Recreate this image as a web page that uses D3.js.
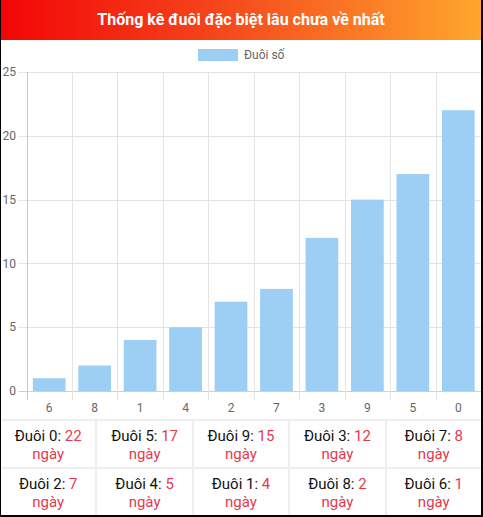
<!DOCTYPE html>
<html>
<head>
<meta charset="utf-8">
<script src="https://cdn.jsdelivr.net/npm/d3@7"></script>
<style>
  html, body { margin: 0; padding: 0; background: #000; }
  #wrap {
    position: absolute; left: 1px; top: 0;
    width: 480px; height: 515px;
    background: #fff; overflow: hidden;
    font-family: Roboto, "Noto Sans", sans-serif;
  }
  #title {
    position: absolute; left: 0; top: 0; width: 480px; height: 40px;
    background: linear-gradient(to right, #f20505, #f5461c 45%, #ffa72c);
    color: #fff; font-weight: bold; font-size: 16px;
    line-height: 40px; text-align: center;
  }
  #chart { position: absolute; left: 0; top: 40px; }
  #table {
    position: absolute; left: 0; top: 419px; width: 480px; height: 96px;
    display: grid; grid-template-columns: repeat(5, 1fr);
    grid-template-rows: 46px 46px;
    gap: 2px; background: #eee; padding-top: 2px;
  }
  .cell {
    background: #fff; text-align: center; font-size: 15px;
    line-height: 18px; padding-top: 6px; color: #111;
  }
  .cell .red { color: #e8384f; }
</style>
</head>
<body>
<div id="wrap">
  <div id="title">Thống kê đuôi đặc biệt lâu chưa về nhất</div>
  <svg id="chart" width="480" height="379"></svg>
  <div id="table"></div>
</div>
<script>
// data
const categories = ['6', '8', '1', '4', '2', '7', '3', '9', '5', '0'];
const values = [1, 2, 4, 5, 7, 8, 12, 15, 17, 22];
const yTicks = [0, 5, 10, 15, 20, 25];
const seriesName = 'Đuôi số';

const svg = d3.select('#chart');
// plot area inside the svg (svg starts 40px below page top, 1px right)
const plotL = 25.5, plotR = 480, plotT = 32, plotB = 351;

const x = d3.scaleBand().domain(categories).range([plotL, plotR]).paddingInner(0).paddingOuter(0);
const y = d3.scaleLinear().domain([0, 25]).range([plotB, plotT]);

// horizontal grid + y labels
const gy = svg.append('g');
yTicks.forEach(t => {
  gy.append('line')
    .attr('x1', plotL - 8).attr('x2', plotR)
    .attr('y1', Math.round(y(t)) + 0.5).attr('y2', Math.round(y(t)) + 0.5)
    .attr('stroke', t === 0 ? '#cfcfcf' : '#e4e4e4');
  gy.append('text')
    .attr('x', 15).attr('y', y(t)).attr('dy', '0.35em')
    .attr('text-anchor', 'end')
    .attr('fill', '#666').style('font-size', '12px')
    .text(t);
});

// vertical grid at band edges
const edges = categories.map(c => x(c)).concat([plotR]);
edges.forEach((e, i) => {
  svg.append('line')
    .attr('x1', Math.round(e) + 0.5).attr('x2', Math.round(e) + 0.5)
    .attr('y1', plotT).attr('y2', plotB + 9)
    .attr('stroke', i === 0 ? '#c8c8c8' : '#e4e4e4');
});

// bars
const barW = x.bandwidth() * 0.72;
svg.selectAll('.bar')
  .data(values)
  .enter().append('rect')
  .attr('class', 'bar')
  .attr('x', (d, i) => x(categories[i]) + (x.bandwidth() - barW) / 2)
  .attr('width', barW)
  .attr('y', d => y(d))
  .attr('height', d => y(0) - y(d))
  .attr('fill', '#9dcff5');

// x labels
svg.selectAll('.xl')
  .data(categories)
  .enter().append('text')
  .attr('x', d => x(d) + x.bandwidth() / 2)
  .attr('y', plotB + 17).attr('dy', '0.35em')
  .attr('text-anchor', 'middle')
  .attr('fill', '#666').style('font-size', '12px')
  .text(d => d);

// legend
svg.append('rect')
  .attr('x', 197).attr('y', 9).attr('width', 40).attr('height', 12)
  .attr('fill', '#9dcff5');
svg.append('text')
  .attr('x', 243).attr('y', 15).attr('dy', '0.35em')
  .attr('fill', '#666').style('font-size', '12px')
  .text(seriesName);

// table, longest first
const order = d3.range(values.length).sort((a, b) => values[b] - values[a]);
d3.select('#table').selectAll('.cell')
  .data(order)
  .enter().append('div')
  .attr('class', 'cell')
  .html(i => `Đuôi ${categories[i]}: <span class="red">${values[i]}</span><br><span class="red">ngày</span>`);
</script>
</body>
</html>
